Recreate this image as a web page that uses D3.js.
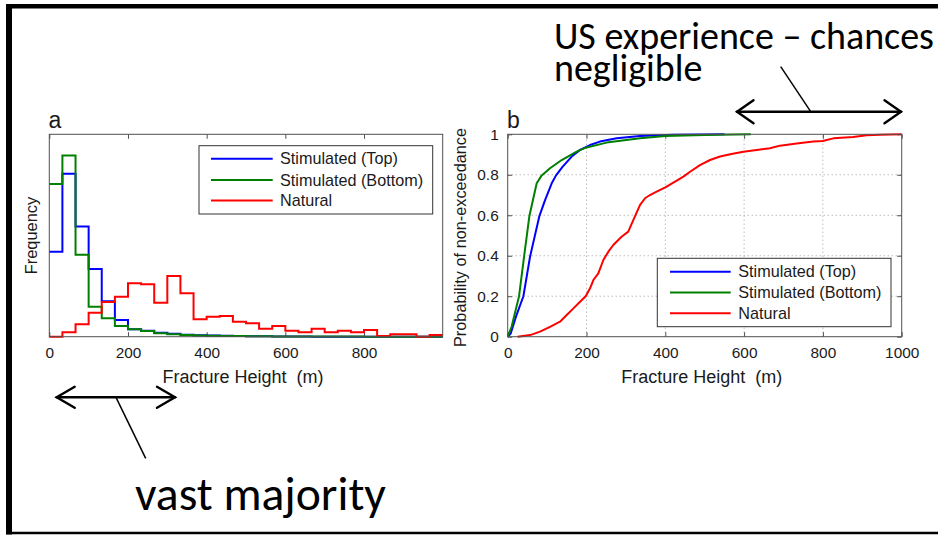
<!DOCTYPE html>
<html>
<head>
<meta charset="utf-8">
<script src="https://cdn.jsdelivr.net/npm/d3@7/dist/d3.min.js"></script>
<style>
  html, body { margin: 0; padding: 0; background: #fff; }
  svg { display: block; }
  .mat text { font-family: "Liberation Sans", Arial, Helvetica, sans-serif; fill: #1a1a1a; }
  .note { font-family: Carlito, Lato, "Open Sans", sans-serif; fill: #000; }
</style>
</head>
<body>
<svg id="fig" width="938" height="536"></svg>
<script>
// ---- Histogram (panel a): bins of 33.3 m from 0 to 1000 m ----
const binStarts = [0, 33.3, 66.7, 100, 133.3, 166.7, 200, 233.3, 266.7, 300,
                   333.3, 366.7, 400, 433.3, 466.7, 500, 533.3, 566.7, 600, 633.3,
                   666.7, 700, 733.3, 766.7, 800, 833.3, 866.7, 900, 933.3, 966.7];
const binEnd = 1000;
const freqTop = [84, 161, 109, 67, 35, 16.5, 7.4, 6, 4, 3,
                 2, 1.5, 1.2, 0.9, 0.7, 0.5, 0.4, 0.3, 0.2, 0.1,
                 0, 0, 0, 0, 0, 0, 0, 0, 0, 0];
const freqBottom = [151, 179, 81, 29.6, 18.2, 10.6, 7.3, 5.6, 3.4, 2.4,
                    1.8, 1.3, 1, 0.8, 0.6, 0.5, 0.4, 0.3, 0.3, 0.2,
                    0.2, 0.1, 0.1, 0.1, 0, 0, 0, 0, 0, 0];
const freqNatural = [0, 4.4, 12.3, 23.7, 34.3, 39.5, 52.8, 51.8, 33.6, 60,
                     42.9, 17.2, 19.8, 20.4, 14.8, 13.2, 7.9, 10.6, 5.9, 4.3,
                     7.9, 4.3, 5.9, 4.3, 6.6, 0.7, 2.4, 2.4, 0, 1.7];
const histTicks = [0, 200, 400, 600, 800];

// ---- Cumulative distributions (panel b) ----
const cdfTopX = [0, 7.6, 21, 39.8, 56.7, 80.4, 94.8, 111.7, 122.7, 139.6, 162.4, 183.6,
                 209, 234, 276.6, 336, 420, 550];
const cdfTopP = [0, 0.016, 0.099, 0.2, 0.395, 0.596, 0.675, 0.758, 0.797, 0.84, 0.89, 0.923,
                 0.947, 0.964, 0.98, 0.992, 0.998, 1];
const cdfBottomX = [0, 10, 28.8, 41.5, 55, 73.6, 86.3, 107.4, 137, 175, 198, 251, 336, 400, 500, 617];
const cdfBottomP = [0, 0.05, 0.2, 0.395, 0.596, 0.758, 0.797, 0.832, 0.873, 0.914, 0.934,
                    0.959, 0.98, 0.992, 0.997, 1];
const cdfNaturalX = [25, 56.7, 82, 107.4, 132.8, 149.7, 166.7, 183.6, 198, 209, 217.4, 230,
                     242.8, 255.5, 268, 289, 306, 319, 336, 348.6, 361, 378, 400, 420.5,
                     446, 462.8, 488, 513.5, 539, 564.7, 598, 632, 665.7, 691, 733.5, 775.6,
                     799.5, 826.5, 877, 911, 945, 1000];
const cdfNaturalP = [0, 0.008, 0.025, 0.049, 0.074, 0.107, 0.14, 0.173, 0.2, 0.239, 0.28, 0.313,
                     0.379, 0.42, 0.453, 0.494, 0.519, 0.577, 0.651, 0.684, 0.7, 0.717, 0.738, 0.761,
                     0.791, 0.815, 0.848, 0.873, 0.89, 0.901, 0.914, 0.923, 0.931, 0.944, 0.955, 0.964,
                     0.967, 0.98, 0.987, 0.995, 0.998, 1];
const cdfXTicks = [0, 200, 400, 600, 800, 1000];
const cdfYTicks = [0, 0.2, 0.4, 0.6, 0.8, 1];

const seriesNames = ["Stimulated (Top)", "Stimulated (Bottom)", "Natural"];
const seriesColors = ["#0000ff", "#008000", "#ff0000"];

const svg = d3.select("#fig");

// Slide frame (left, top and bottom edges)
svg.append("line").attr("x1", 9).attr("x2", 9).attr("y1", 4).attr("y2", 534.5)
  .attr("stroke", "#000").attr("stroke-width", 6);
svg.append("line").attr("x1", 6).attr("x2", 938).attr("y1", 6.2).attr("y2", 6.2)
  .attr("stroke", "#000").attr("stroke-width", 4.4);
svg.append("line").attr("x1", 6).attr("x2", 938).attr("y1", 533).attr("y2", 533)
  .attr("stroke", "#000").attr("stroke-width", 2.6);

const fig = svg.append("g").attr("class", "mat");
const TICK = 4.5;
const boxColor = "#505050";

function legend(g, x0, y0, x1, y1, lineX0, lineX1, textX, rows) {
  g.append("rect").attr("x", x0).attr("y", y0).attr("width", x1 - x0).attr("height", y1 - y0)
    .attr("fill", "#fff").attr("stroke", "#333").attr("stroke-width", 1);
  seriesNames.forEach((name, i) => {
    g.append("line").attr("x1", lineX0).attr("x2", lineX1).attr("y1", rows[i]).attr("y2", rows[i])
      .attr("stroke", seriesColors[i]).attr("stroke-width", 2);
    g.append("text").attr("x", textX).attr("y", rows[i] + 5.7)
      .attr("font-size", 16.2).text(name);
  });
}

function styleAxis(sel) {
  sel.select(".domain").remove();
  sel.selectAll(".tick line").attr("stroke", boxColor);
  sel.selectAll(".tick text").attr("fill", "#1a1a1a").attr("font-size", 15.4)
    .attr("font-family", '"Liberation Sans", Arial, sans-serif');
}

// ================= Panel a: histogram =================
{
  const xL = d3.scaleLinear().domain([0, 1000]).range([49.3, 442.7]);
  const yL = d3.scaleLinear().domain([0, 200]).range([336.7, 134.3]);
  const g = fig.append("g");

  g.append("g").attr("transform", `translate(0,${yL(0)})`)
    .call(d3.axisBottom(xL).tickValues(histTicks).tickSize(-TICK).tickPadding(10).tickFormat(d3.format("d")))
    .call(styleAxis);
  g.append("g").attr("transform", `translate(0,${yL(200)})`)
    .call(d3.axisTop(xL).tickValues(histTicks).tickSize(-TICK).tickFormat(""))
    .call(styleAxis);

  const stairs = d3.line().x(d => xL(d[0])).y(d => yL(d[1])).curve(d3.curveStepAfter);
  [freqTop, freqBottom, freqNatural].forEach((vals, i) => {
    const pts = binStarts.map((s, k) => [s, vals[k]]);
    pts.push([binEnd, vals[vals.length - 1]]);
    g.append("path").attr("d", stairs(pts)).attr("fill", "none")
      .attr("stroke", seriesColors[i]).attr("stroke-width", 2).attr("stroke-linejoin", "miter");
  });

  g.append("rect").attr("x", xL(0)).attr("y", yL(200))
    .attr("width", xL(1000) - xL(0)).attr("height", yL(0) - yL(200))
    .attr("fill", "none").attr("stroke", boxColor).attr("stroke-width", 1);

  legend(g, 199, 145.7, 432.7, 214, 211, 272.7, 280, [158.7, 180, 200.6]);

  g.append("text").attr("x", (xL(0) + xL(1000)) / 2 - 3).attr("y", 383.3)
    .attr("text-anchor", "middle").attr("font-size", 18).style("white-space", "pre")
    .text("Fracture Height  (m)");
  g.append("text").attr("transform", `translate(36.5,${(yL(0) + yL(200)) / 2}) rotate(-90)`)
    .attr("text-anchor", "middle").attr("font-size", 16.4).text("Frequency");
  g.append("text").attr("x", 48.5).attr("y", 128).attr("font-size", 23).text("a");
}

// ================= Panel b: cumulative distribution =================
{
  const xR = d3.scaleLinear().domain([0, 1000]).range([507.7, 901.7]);
  const yR = d3.scaleLinear().domain([0, 1]).range([336.7, 134.3]);
  const g = fig.append("g");

  // dotted grid
  const grid = g.append("g").attr("stroke", "#9a9a9a").attr("stroke-width", 1)
    .attr("stroke-dasharray", "1,3");
  cdfXTicks.filter(v => v > 0 && v < 1000).forEach(v => {
    grid.append("line").attr("x1", xR(v)).attr("x2", xR(v)).attr("y1", yR(0)).attr("y2", yR(1));
  });
  cdfYTicks.filter(v => v > 0 && v < 1).forEach(v => {
    grid.append("line").attr("x1", xR(0)).attr("x2", xR(1000)).attr("y1", yR(v)).attr("y2", yR(v));
  });

  g.append("g").attr("transform", `translate(0,${yR(0)})`)
    .call(d3.axisBottom(xR).tickValues(cdfXTicks).tickSize(-TICK).tickPadding(10).tickFormat(d3.format("d")))
    .call(styleAxis);
  g.append("g").attr("transform", `translate(0,${yR(1)})`)
    .call(d3.axisTop(xR).tickValues(cdfXTicks).tickSize(-TICK).tickFormat(""))
    .call(styleAxis);
  g.append("g").attr("transform", `translate(${xR(0)},0)`)
    .call(d3.axisLeft(yR).tickValues(cdfYTicks).tickSize(-TICK).tickPadding(9)
      .tickFormat(d => d3.format("")(+d.toFixed(1))))
    .call(styleAxis);
  g.append("g").attr("transform", `translate(${xR(1000)},0)`)
    .call(d3.axisRight(yR).tickValues(cdfYTicks).tickSize(-TICK).tickFormat(""))
    .call(styleAxis);

  const curve = d3.line().x(d => xR(d[0])).y(d => yR(d[1]));
  [[cdfTopX, cdfTopP], [cdfBottomX, cdfBottomP], [cdfNaturalX, cdfNaturalP]].forEach((s, i) => {
    const pts = s[0].map((x, k) => [x, s[1][k]]);
    g.append("path").attr("d", curve(pts)).attr("fill", "none")
      .attr("stroke", seriesColors[i]).attr("stroke-width", 2).attr("stroke-linejoin", "round");
  });

  g.append("rect").attr("x", xR(0)).attr("y", yR(1))
    .attr("width", xR(1000) - xR(0)).attr("height", yR(0) - yR(1))
    .attr("fill", "none").attr("stroke", boxColor).attr("stroke-width", 1);

  legend(g, 657.3, 258.3, 891, 326.7, 670, 730.7, 738.3, [271.7, 292.5, 313.3]);

  g.append("text").attr("x", (xR(0) + xR(1000)) / 2 - 3).attr("y", 383.3)
    .attr("text-anchor", "middle").attr("font-size", 18).style("white-space", "pre")
    .text("Fracture Height  (m)");
  g.append("text").attr("transform", `translate(466,${(yR(0) + yR(1)) / 2 + 2}) rotate(-90)`)
    .attr("text-anchor", "middle").attr("font-size", 16.3).text("Probability of non-exceedance");
  g.append("text").attr("x", 507).attr("y", 128).attr("font-size", 23).text("b");
}

// ================= Annotations =================
// Two-line callout kept in a single text element, sized so the first line spans the given width
function callout(x, y, lines, width, lineGap) {
  const t = svg.append("text").attr("class", "note").attr("x", x).attr("y", y).attr("font-size", 32);
  const spans = lines.map((str, i) =>
    t.append("tspan").attr("x", x).attr("y", y + i * lineGap).text(str));
  const w = spans[0].node().getComputedTextLength();
  t.attr("font-size", 32 * width / w);
  return t;
}
callout(554, 49.3, ["US experience \u2013 chances", "negligible"], 380, 32);
callout(135, 510, ["vast majority"], 251, 0);

function doubleArrow(x0, x1, y, armX, armY) {
  const a = svg.append("g").attr("fill", "none").attr("stroke", "#000")
    .attr("stroke-width", 2.4).attr("stroke-linecap", "round").attr("stroke-linejoin", "miter");
  a.append("line").attr("x1", x0).attr("x2", x1).attr("y1", y).attr("y2", y);
  a.append("path").attr("d", `M${x0 + armX},${y - armY}L${x0},${y}L${x0 + armX},${y + armY}`);
  a.append("path").attr("d", `M${x1 - armX},${y - armY}L${x1},${y}L${x1 - armX},${y + armY}`);
}
doubleArrow(737, 901, 111.7, 16.5, 11.5);
svg.append("line").attr("x1", 780.7).attr("y1", 66.7).attr("x2", 810.7).attr("y2", 111.7)
  .attr("stroke", "#000").attr("stroke-width", 1.5);

doubleArrow(56.7, 175, 397.3, 18, 10.5);
svg.append("line").attr("x1", 116).attr("y1", 397.3).attr("x2", 145.7).attr("y2", 458.3)
  .attr("stroke", "#000").attr("stroke-width", 1.5);
</script>
</body>
</html>
